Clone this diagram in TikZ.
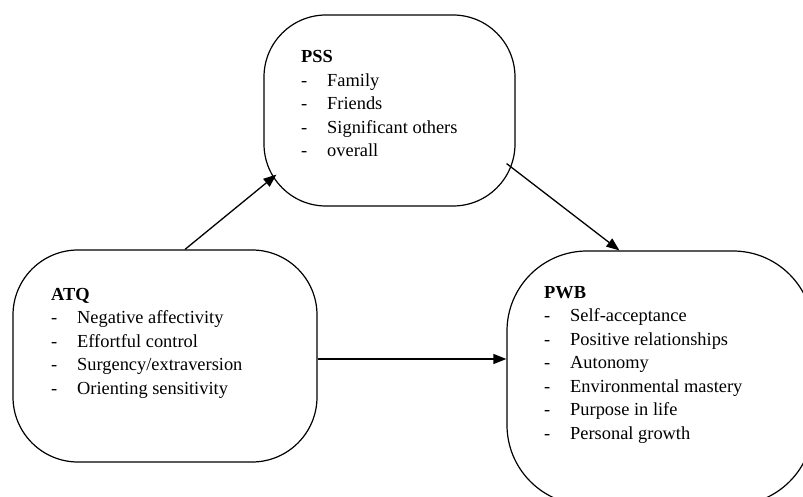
\documentclass[tikz,border=0pt]{standalone}
\usepackage{fontspec}
\setmainfont{Liberation Serif}
\usetikzlibrary{arrows.meta}

\tikzset{
  bubble/.style={draw, line width=1.2pt, rounded corners=#1, inner sep=0pt},
  link/.style={line width=1.3pt, -{Triangle[length=13pt,width=10pt]}},
  head/.style={anchor=base west, inner sep=0pt, font=\fontsize{18.4}{23.5}\selectfont\bfseries},
  item/.style={anchor=base west, inner sep=0pt, font=\fontsize{18.4}{23.5}\selectfont},
}

\begin{document}
\begin{tikzpicture}[x=1pt, y=-1pt]
        \useasboundingbox (0,0) rectangle (803,497);
        \clip (0,0) rectangle (803,497);
        % the three blocks
        \node[bubble=65pt, minimum width=304pt, minimum height=212pt] (atq) at (165,356) {};
        \node[bubble=62pt, minimum width=251pt, minimum height=191pt] (pss) at (389.5,110.5) {};
        \node[bubble=80pt, minimum width=306pt, minimum height=254pt] (pwb) at (660,378) {};
        % ATQ
        \node[head] (atqhead) at (51,300) {ATQ};
        \foreach \t [count=\i] in {Negative affectivity, Effortful control, Surgency/extraversion, Orienting sensitivity} {
            \node[item] at ([yshift={-23.5pt*\i}]atqhead.base west) {-};
            \node[item] at ([xshift=26pt, yshift={-23.5pt*\i}]atqhead.base west) {\t};
        }
        % PSS
        \node[head] (psshead) at (301,63) {PSS};
        \foreach \t [count=\i] in {Family, Friends, Significant others, overall} {
            \node[item] at ([yshift={-23.5pt*\i}]psshead.base west) {-};
            \node[item] at ([xshift=26pt, yshift={-23.5pt*\i}]psshead.base west) {\t};
        }
        % PWB
        \node[head] (pwbhead) at (544,298) {PWB};
        \foreach \t [count=\i] in {Self-acceptance, Positive relationships, Autonomy, Environmental mastery, Purpose in life, Personal growth} {
            \node[item] at ([yshift={-23.5pt*\i}]pwbhead.base west) {-};
            \node[item] at ([xshift=26pt, yshift={-23.5pt*\i}]pwbhead.base west) {\t};
        }
        % paths
        \draw[link] ([xshift=20pt]atq.north) -- ([xshift=13pt, yshift=32pt]pss.south west);
        \draw[link] ([xshift=-9pt, yshift=43pt]pss.south east) -- ([xshift=113pt]pwb.north west);
        \draw[link] ([yshift=-3pt]atq.east) -- ([yshift=-3pt]atq.east -| pwb.west);
    \end{tikzpicture}
\end{document}
